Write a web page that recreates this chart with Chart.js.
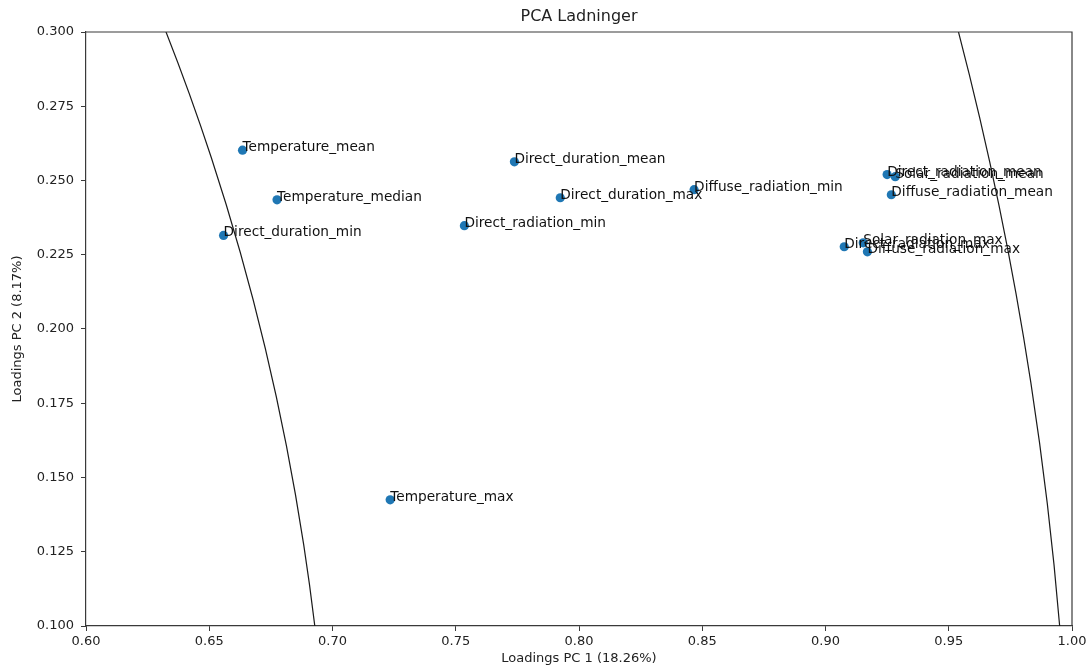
<!DOCTYPE html>
<html>
<head>
<meta charset="utf-8">
<title>PCA Ladninger</title>
<script src="https://cdn.jsdelivr.net/npm/chart.js@4.4.1/dist/chart.umd.min.js"></script>
<style>
  html, body { margin: 0; padding: 0; background: #ffffff; }
  #wrap { width: 1086px; height: 672px; }
</style>
</head>
<body>
<div id="wrap"><canvas id="pca" width="1086" height="672"></canvas></div>
<script>
// Variable names and their loadings on the first two principal components
const variables = [
  'Temperature_mean', 'Temperature_median', 'Direct_duration_min', 'Temperature_max',
  'Direct_duration_mean', 'Direct_duration_max', 'Direct_radiation_min', 'Diffuse_radiation_min',
  'Direct_radiation_mean', 'Solar_radiation_mean', 'Diffuse_radiation_mean',
  'Direct_radiation_max', 'Solar_radiation_max', 'Diffuse_radiation_max'
];
const loadingsPC1 = [
  0.6635, 0.6775, 0.6558, 0.7234,
  0.7738, 0.7924, 0.7535, 0.8467,
  0.9250, 0.9283, 0.9267,
  0.9076, 0.9153, 0.9170
];
const loadingsPC2 = [
  0.2602, 0.2435, 0.2315, 0.1425,
  0.2563, 0.2442, 0.2348, 0.2469,
  0.2520, 0.2513, 0.2452,
  0.2277, 0.2290, 0.2260
];

// Reference circles (radius in loading units, centred on the origin)
const circleRadii = [0.7, 1.0];

// Axis ticks
const xTickValues = [0.60, 0.65, 0.70, 0.75, 0.80, 0.85, 0.90, 0.95, 1.00];
const xTickLabels = ['0.60', '0.65', '0.70', '0.75', '0.80', '0.85', '0.90', '0.95', '1.00'];
const yTickValues = [0.100, 0.125, 0.150, 0.175, 0.200, 0.225, 0.250, 0.275, 0.300];
const yTickLabels = ['0.100', '0.125', '0.150', '0.175', '0.200', '0.225', '0.250', '0.275', '0.300'];

const FONT = 'DejaVu Sans';
const INK = '#222222';
const SPINE = '#3a3a3a';

const points = variables.map((name, i) => ({ x: loadingsPC1[i], y: loadingsPC2[i], name }));

// White page background
const background = {
  id: 'background',
  beforeDraw(chart) {
    const { ctx, width, height } = chart;
    ctx.save();
    ctx.fillStyle = '#ffffff';
    ctx.fillRect(0, 0, width, height);
    ctx.restore();
  }
};

// Circles drawn through the scales so they follow the axis ranges
const circles = {
  id: 'circles',
  beforeDatasetsDraw(chart) {
    const { ctx, chartArea: a, scales: { x, y } } = chart;
    const cx = x.getPixelForValue(0);
    const cy = y.getPixelForValue(0);
    ctx.save();
    ctx.beginPath();
    ctx.rect(a.left, a.top, a.right - a.left, a.bottom - a.top);
    ctx.clip();
    ctx.strokeStyle = '#1a1a1a';
    ctx.lineWidth = 1.2;
    circleRadii.forEach(r => {
      const rx = Math.abs(x.getPixelForValue(r) - cx);
      const ry = Math.abs(y.getPixelForValue(r) - cy);
      ctx.beginPath();
      ctx.ellipse(cx, cy, rx, ry, 0, 0, Math.PI * 2);
      ctx.stroke();
    });
    ctx.restore();
  }
};

// Variable names written next to their points
const pointNames = {
  id: 'pointNames',
  afterDatasetsDraw(chart) {
    const { ctx } = chart;
    const meta = chart.getDatasetMeta(0);
    ctx.save();
    ctx.font = '13.7px "' + FONT + '"';
    ctx.fillStyle = '#111111';
    ctx.textAlign = 'left';
    ctx.textBaseline = 'alphabetic';
    meta.data.forEach((el, i) => {
      ctx.fillText(points[i].name, el.x, el.y + 1);
    });
    ctx.restore();
  }
};

// Top and right frame lines
const frame = {
  id: 'frame',
  afterDraw(chart) {
    const { ctx, chartArea: a } = chart;
    ctx.save();
    ctx.strokeStyle = SPINE;
    ctx.lineWidth = 1.2;
    ctx.beginPath();
    ctx.moveTo(a.left, a.top);
    ctx.lineTo(a.right, a.top);
    ctx.lineTo(a.right, a.bottom);
    ctx.stroke();
    ctx.restore();
  }
};

new Chart(document.getElementById('pca'), {
  type: 'scatter',
  data: {
    datasets: [{
      data: points,
      backgroundColor: '#1f77b4',
      borderColor: '#1f77b4',
      borderWidth: 0,
      pointRadius: 4.6,
      pointHoverRadius: 4.6
    }]
  },
  options: {
    responsive: false,
    animation: false,
    events: [],
    layout: { padding: { left: 0, right: 14, top: 0, bottom: 0 } },
    plugins: {
      legend: { display: false },
      tooltip: { enabled: false },
      title: {
        display: true,
        text: 'PCA Ladninger',
        fullSize: false,
        color: INK,
        font: { family: FONT, size: 16, weight: 'normal', lineHeight: 1.2 },
        padding: { top: 7, bottom: 5.8 }
      }
    },
    scales: {
      x: {
        type: 'linear',
        min: 0.6,
        max: 1.0,
        afterFit(scale) {
          scale.height = 46;
          scale.paddingLeft = 0;
          scale.paddingRight = 0;
        },
        afterBuildTicks(scale) { scale.ticks = xTickValues.map(v => ({ value: v })); },
        ticks: {
          color: INK,
          font: { family: FONT, size: 13 },
          padding: 3,
          maxRotation: 0,
          autoSkip: false,
          callback: (v, i) => xTickLabels[i]
        },
        grid: { drawOnChartArea: false, drawTicks: true, tickLength: 5, color: SPINE, lineWidth: 1 },
        border: { display: true, color: SPINE, width: 1.2 },
        title: {
          display: true,
          text: 'Loadings PC 1 (18.26%)',
          color: INK,
          font: { family: FONT, size: 13, lineHeight: 1.2 },
          padding: { top: 0, bottom: 6 }
        }
      },
      y: {
        type: 'linear',
        min: 0.1,
        max: 0.3,
        afterFit(scale) {
          scale.width = 86;
          scale.paddingTop = 0;
          scale.paddingBottom = 0;
        },
        afterBuildTicks(scale) { scale.ticks = yTickValues.map(v => ({ value: v })); },
        ticks: {
          color: INK,
          font: { family: FONT, size: 13 },
          padding: 7,
          autoSkip: false,
          callback: (v, i) => yTickLabels[i]
        },
        grid: { drawOnChartArea: false, drawTicks: true, tickLength: 5, color: SPINE, lineWidth: 1 },
        border: { display: true, color: SPINE, width: 1.2 },
        title: {
          display: true,
          text: 'Loadings PC 2 (8.17%)',
          color: INK,
          font: { family: FONT, size: 13, lineHeight: 1.2 },
          padding: { top: 10, bottom: 0 }
        }
      }
    }
  },
  plugins: [background, circles, pointNames, frame]
});
</script>
</body>
</html>
